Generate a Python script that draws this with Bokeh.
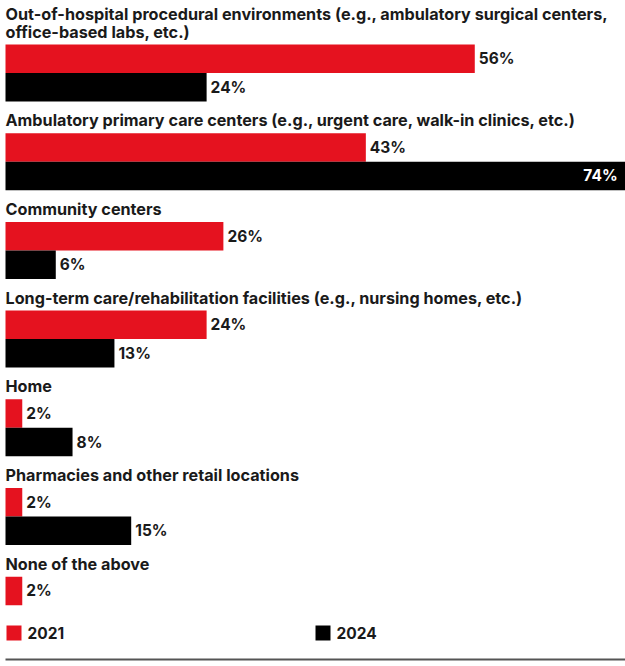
from bokeh.plotting import figure
from bokeh.models import Range1d
from bokeh.core.properties import value
from bokeh.embed import file_html
from bokeh.resources import INLINE

# ---- data ----
categories = [
    ["Out-of-hospital procedural environments (e.g., ambulatory surgical centers,",
     "office-based labs, etc.)"],
    ["Ambulatory primary care centers (e.g., urgent care, walk-in clinics, etc.)"],
    ["Community centers"],
    ["Long-term care/rehabilitation facilities (e.g., nursing homes, etc.)"],
    ["Home"],
    ["Pharmacies and other retail locations"],
    ["None of the above"],
]
values_2021 = [56, 43, 26, 24, 2, 2, 2]
values_2024 = [24, 74, 6, 13, 8, 15, None]
series_names = ["2021", "2024"]
series_colors = ["#E5121F", "#000000"]

# ---- layout constants (pixels) ----
W, H = 625, 666
LEFT = 5
PX = 8.38            # pixels per percentage point
TOP0 = 44.0          # top of first red bar
PITCH = 88.7         # distance between groups
BAR_H = 28.5
TITLE_MID = 13       # title middle above red bar top
LINE_H = 18
FONT = value("Inter")
STYLE = "bold"
TXT = "#1a1a1a"

def xd(px):
    return (px - LEFT) / PX

p = figure(width=W, height=H, output_backend="svg", toolbar_location=None,
           x_range=Range1d(xd(0), xd(W)), y_range=Range1d(H, 0),
           min_border=0, outline_line_color=None,
           x_axis_location=None, y_axis_location=None)
p.xgrid.visible = False
p.ygrid.visible = False
p.background_fill_color = "white"
p.border_fill_color = "white"

# bars and value labels
for s, (vals, col) in enumerate(zip([values_2021, values_2024], series_colors)):
    ys, rights = [], []
    out_x, out_y, out_t = [], [], []
    in_x, in_y, in_t = [], [], []
    for i, v in enumerate(vals):
        if v is None:
            continue
        yc = TOP0 + PITCH * i + BAR_H * s + BAR_H / 2
        ys.append(yc)
        rights.append(v)
        if v > 65:
            in_x.append(v - 8 / PX); in_y.append(yc); in_t.append(f"{v}%")
        else:
            out_x.append(v + 4 / PX); out_y.append(yc); out_t.append(f"{v}%")
    p.hbar(y=ys, left=0, right=rights, height=BAR_H, fill_color=col, line_color=None)
    p.text(x=out_x, y=out_y, text=out_t, text_font=FONT, text_font_size="15.5px",
           text_font_style=STYLE, text_color=TXT, text_align="left", text_baseline="middle")
    if in_x:
        p.text(x=in_x, y=in_y, text=in_t, text_font=FONT, text_font_size="15.5px",
               text_font_style=STYLE, text_color="white", text_align="right",
               text_baseline="middle")

# category titles
tx, ty, tt = [], [], []
for i, lines in enumerate(categories):
    mid = TOP0 + PITCH * i - TITLE_MID
    n = len(lines)
    for k, line in enumerate(lines):
        tx.append(0)
        ty.append(mid - (n - 1 - k) * LINE_H)
        tt.append(line)
p.text(x=tx, y=ty, text=tt, text_font=FONT, text_font_size="16.2px",
       text_font_style=STYLE, text_color=TXT, text_align="left", text_baseline="middle")

# legend
LEG_Y = 632.5
leg_x_px = [13.5, 322.5]
p.rect(x=[xd(v) for v in leg_x_px], y=[LEG_Y, LEG_Y], width=15, height=15,
       width_units="screen", height_units="screen",
       fill_color=series_colors, line_color=None)
p.text(x=[xd(v + 13.5) for v in leg_x_px], y=[LEG_Y, LEG_Y], text=series_names,
       text_font=FONT, text_font_size="15.5px", text_font_style=STYLE, text_color=TXT,
       text_align="left", text_baseline="middle")

# bottom rule
p.segment(x0=[xd(LEFT)], y0=[659], x1=[xd(W)], y1=[659], line_color="#555555", line_width=2)

open("out.html", "w").write(file_html(p, INLINE))
